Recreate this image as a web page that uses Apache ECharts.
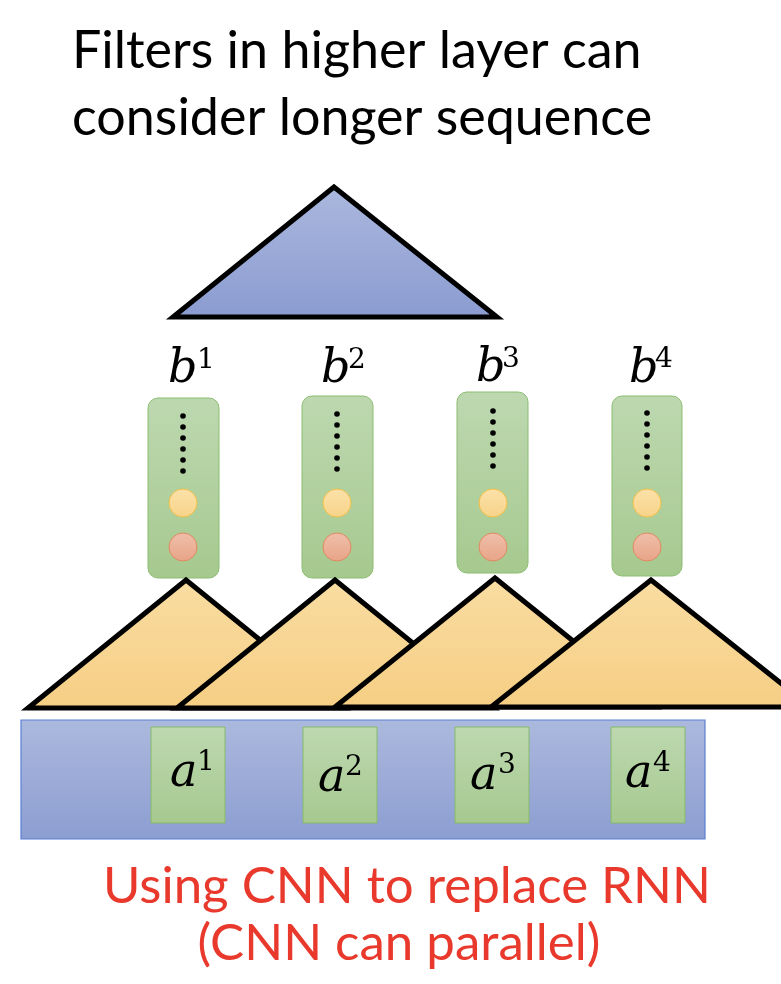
<!DOCTYPE html>
<html><head><meta charset="utf-8">
<script src="https://cdn.jsdelivr.net/npm/echarts@6/dist/echarts.min.js"></script>
<style>html,body{margin:0;padding:0;background:#fff}#c{width:781px;height:984px}</style>
</head><body><div id="c"></div>
<script>
// ---- diagram data (layout units = canvas pixels of the reference) ----
const titleLines = ['Filters in higher layer can', 'consider longer sequence'];
const footerLines = ['Using CNN to replace RNN', '(CNN can parallel)'];
const supers = ['1', '2', '3', '4'];

// top (2nd layer) filter: apexX, apexY, baseLeftX, baseRightX, baseY
const topFilter = [[334, 187, 173, 497, 317]];

// first-layer filters: apexX, apexY, baseY, halfWidth
const filterApexX = [186, 335, 495, 651];
const filterApexY = [580, 580, 578, 580];
const filterBaseY = [708, 708, 707, 707];
const filterHalfW = [158, 158, 160, 160];

// input band: x0, y0, x1, y1
const inputBand = [[21, 720, 705, 839]];

// input boxes a^i
const inputLeft = [151, 303, 455, 611];
const inputTop = [727, 727, 727, 727];
const inputBottom = [823, 823, 823, 823];
const inputWidth = [74, 74, 74, 74];
const aLetterX = [170, 318, 470, 625];
const aLetterBase = [790, 795, 793, 791];
const aSupX = [197, 345, 498, 653];
const aSupBase = [773, 778, 776, 774];

// output columns b^i
const outLeft = [148, 302, 457, 612];
const outTop = [398, 396, 392, 396];
const outBottom = [578, 578, 573, 576];
const outWidth = [71, 71, 71, 70];
const outCenterX = [183, 337, 493, 647];
const dotTop = [416, 414, 411, 413];
const yellowY = [503, 503, 503, 503];
const redY = [547, 547, 547, 547];
const bLetterX = [168, 321, 476, 629];
const bLetterBase = [386, 386, 385, 386];
const bSupX = [197, 348, 502, 655];
const bSupBase = [371, 371, 370, 370];

const chart = echarts.init(document.getElementById('c'), null, {renderer: 'canvas'});
const LG = (a, b) => new echarts.graphic.LinearGradient(0, 0, 0, 1, [{offset: 0, color: a}, {offset: 1, color: b}]);

const orangeData = filterApexX.map((x, i) => [x, filterApexY[i], filterBaseY[i], filterHalfW[i]]);
const inputData = inputLeft.map((x, i) => [x, inputTop[i], inputWidth[i], inputBottom[i], aLetterX[i], aLetterBase[i], aSupX[i], aSupBase[i], i]);
const outData = outLeft.map((x, i) => [x, outTop[i], outWidth[i], outBottom[i], outCenterX[i], dotTop[i], yellowY[i], redY[i], bLetterX[i], bLetterBase[i], bSupX[i], bSupBase[i], i]);

chart.setOption({
  animation: false,
  grid: {left: 0, right: 0, top: 0, bottom: 0},
  xAxis: {type: 'value', min: 0, max: 781, show: false},
  yAxis: {type: 'value', min: 0, max: 984, inverse: true, show: false},
  series: [
    {
      type: 'custom', name: 'topFilter', z: 2, data: topFilter,
      renderItem(p, api) {
        const a = api.coord([api.value(0), api.value(1)]);
        const l = api.coord([api.value(2), api.value(4)]);
        const r = api.coord([api.value(3), api.value(4)]);
        return {type: 'polygon', shape: {points: [a, r, l]},
          style: {fill: LG('#abb8de', '#8a9bd0'), stroke: '#000', lineWidth: 5, lineJoin: 'miter'}};
      }
    },
    {
      type: 'custom', name: 'filters', z: 3, data: orangeData,
      renderItem(p, api) {
        const ax = api.value(0), ay = api.value(1), by = api.value(2), hw = api.value(3);
        return {type: 'polygon', shape: {points: [api.coord([ax, ay]), api.coord([ax + hw, by]), api.coord([ax - hw, by])]},
          style: {fill: LG('#f9dda2', '#f6ce84'), stroke: '#000', lineWidth: 5, lineJoin: 'miter'}};
      }
    },
    {
      type: 'custom', name: 'band', z: 1, data: inputBand,
      renderItem(p, api) {
        const a = api.coord([api.value(0), api.value(1)]);
        const b = api.coord([api.value(2), api.value(3)]);
        return {type: 'rect', shape: {x: a[0], y: a[1], width: b[0] - a[0], height: b[1] - a[1]},
          style: {fill: LG('#acb9de', '#8c9dd1'), stroke: '#5a80d2', lineWidth: 1.2}};
      }
    },
    {
      type: 'custom', name: 'inputs', z: 4, data: inputData,
      renderItem(p, api) {
        const tl = api.coord([api.value(0), api.value(1)]);
        const br = api.coord([api.value(0) + api.value(2), api.value(3)]);
        const lt = api.coord([api.value(4), api.value(5)]);
        const st = api.coord([api.value(6), api.value(7)]);
        const i = api.value(8);
        return {type: 'group', children: [
          {type: 'rect', shape: {x: tl[0], y: tl[1], width: br[0] - tl[0], height: br[1] - tl[1]},
            style: {fill: LG('#bdd8b0', '#a6c98f'), stroke: '#86ba6a', lineWidth: 1}},
          {type: 'text', style: {text: 'a', x: lt[0], y: lt[1] - 16, align: 'left', verticalAlign: 'middle',
            font: 'italic 46px "DejaVu Serif"', fill: '#000'}},
          {type: 'text', style: {text: supers[i], x: st[0], y: st[1] - 10, align: 'left', verticalAlign: 'middle',
            font: '28px "DejaVu Serif"', fill: '#000'}}
        ]};
      }
    },
    {
      type: 'custom', name: 'outputs', z: 2, data: outData,
      renderItem(p, api) {
        const tl = api.coord([api.value(0), api.value(1)]);
        const br = api.coord([api.value(0) + api.value(2), api.value(3)]);
        const cx = api.coord([api.value(4), 0])[0];
        const dt = api.value(5);
        const yy = api.coord([0, api.value(6)])[1];
        const ry = api.coord([0, api.value(7)])[1];
        const lt = api.coord([api.value(8), api.value(9)]);
        const st = api.coord([api.value(10), api.value(11)]);
        const i = api.value(12);
        const children = [
          {type: 'rect', shape: {x: tl[0], y: tl[1], width: br[0] - tl[0], height: br[1] - tl[1], r: 10},
            style: {fill: LG('#bdd8b0', '#a6c98f'), stroke: '#8cbd70', lineWidth: 1}}
        ];
        for (let k = 0; k < 6; k++) {
          const dy = api.coord([0, dt + k * 11])[1];
          children.push({type: 'circle', shape: {cx: cx, cy: dy, r: 2.8}, style: {fill: '#000'}});
        }
        children.push({type: 'circle', shape: {cx: cx, cy: yy, r: 14}, style: {fill: LG('#fbe1a9', '#f7d38a'), stroke: '#f1c046', lineWidth: 1}});
        children.push({type: 'circle', shape: {cx: cx, cy: ry, r: 14}, style: {fill: LG('#efbfaa', '#e8a488'), stroke: '#de8a60', lineWidth: 1}});
        children.push({type: 'text', style: {text: 'b', x: lt[0], y: lt[1] - 15.5, align: 'left', verticalAlign: 'middle',
          font: 'italic 46px "DejaVu Serif"', fill: '#000'}});
        children.push({type: 'text', style: {text: supers[i], x: st[0], y: st[1] - 10, align: 'left', verticalAlign: 'middle',
          font: '28px "DejaVu Serif"', fill: '#000'}});
        return {type: 'group', children};
      }
    },
    {
      type: 'custom', name: 'texts', z: 5,
      data: [[72, 51, 0, 52], [72, 118, 1, 52], [407, 887, 2, 51], [399, 944, 3, 51]],
      renderItem(p, api) {
        const c = api.coord([api.value(0), api.value(1)]);
        const k = api.value(2);
        const txt = k < 2 ? titleLines[k] : footerLines[k - 2];
        return {type: 'text', style: {text: txt, x: c[0], y: c[1], align: k < 2 ? 'left' : 'center', verticalAlign: 'middle',
          font: api.value(3) + 'px Lato', fill: k < 2 ? '#000' : '#e8392c'}};
      }
    }
  ]
});
</script></body></html>
